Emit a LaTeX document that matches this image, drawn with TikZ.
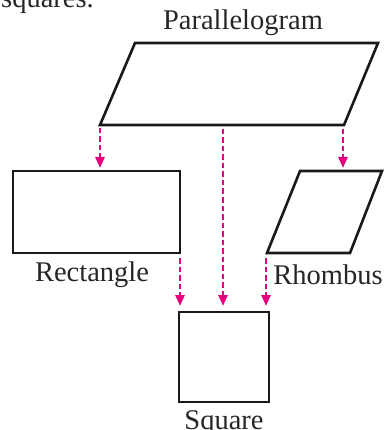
\documentclass[tikz,border=0pt]{standalone}
\usepackage{fontspec}
\setmainfont{Liberation Serif}
\usetikzlibrary{arrows.meta}
\definecolor{pink}{RGB}{230,0,126}
\tikzset{
  outline/.style={draw=black!90,line width=2.6pt,line join=miter},
  link/.style={draw=pink,line width=2.6pt,dash pattern=on 5.5pt off 3pt,-{Triangle[width=9pt,length=11pt]}},
  lbl/.style={font=\fontsize{28.5}{30}\selectfont,text=black!85,anchor=base,inner sep=0pt}
}
\begin{document}
\begin{tikzpicture}[x=1pt,y=-1pt]
\useasboundingbox (0,0) rectangle (385,430);
\begin{scope}
\clip (0,0) rectangle (385,430);
\node[lbl,anchor=base west] (frag) at (1,8) {squares.};
\node[lbl] (tP) at (243,30) {Parallelogram};
\node[lbl] (tR) at (92,281) {Rectangle};
\node[lbl] (tH) at (328,284) {Rhombus};
\node[lbl] (tS) at (224,429) {Square};
\end{scope}
% parallelogram
\coordinate (p1) at (135,43);
\coordinate (p2) at (378,43);
\coordinate (p3) at (344,125);
\coordinate (p4) at (100,125);
\draw[outline] (p1) -- (p2) -- (p3) -- (p4) -- cycle;
% rectangle
\node[outline,minimum width=167pt,minimum height=82pt,inner sep=0pt,outer sep=0pt] (rect) at (96.5,212) {};
% rhombus
\coordinate (r1) at (300,171);
\coordinate (r2) at (382,171);
\coordinate (r3) at (350,253);
\coordinate (r4) at (267,253);
\draw[outline] (r1) -- (r2) -- (r3) -- (r4) -- cycle;
% square
\node[outline,minimum width=90pt,minimum height=90pt,inner sep=0pt,outer sep=0pt] (sq) at (224,357) {};
% connector end points
\coordinate (a1s) at (100,128);
\coordinate (a1e) at (100,168);
\coordinate (a2s) at (223,129);
\coordinate (a2e) at (223,306);
\coordinate (a3s) at (343,129);
\coordinate (a3e) at (343,168);
\coordinate (a4s) at (180,258);
\coordinate (a4e) at (180,306);
\coordinate (a5s) at (266,258);
\coordinate (a5e) at (266,306);
\draw[link] (a1s) -- (a1e);
\draw[link] (a2s) -- (a2e);
\draw[link] (a3s) -- (a3e);
\draw[link] (a4s) -- (a4e);
\draw[link] (a5s) -- (a5e);
\end{tikzpicture}
\end{document}
